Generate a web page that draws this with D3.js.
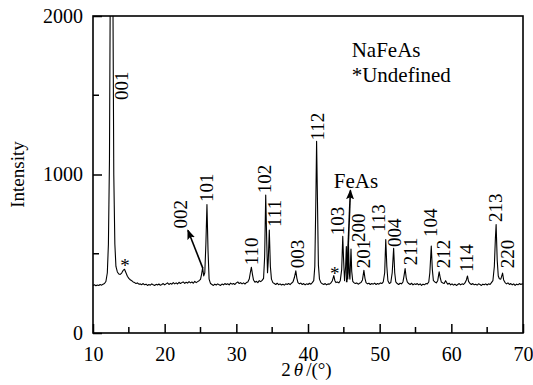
<!DOCTYPE html>
<html>
<head>
<meta charset="utf-8">
<script src="https://cdn.jsdelivr.net/npm/d3@7"></script>
<style>
  html, body { margin: 0; padding: 0; background: #fff; }
  svg { display: block; }
</style>
</head>
<body>
<svg id="chart" width="533" height="385"></svg>
<script>
'use strict';

const serif = '"Liberation Serif"';

// XRD scan, [2theta (deg), intensity]
const scan = [
  [10.0, 300], [10.2, 304], [10.4, 298], [10.6, 303], [10.8, 300], [11.0, 306],
  [11.2, 302], [11.4, 308], [11.6, 312], [11.8, 325], [12.0, 380], [12.15, 560],
  [12.3, 1100], [12.45, 2600], [12.6, 5200], [12.75, 2400], [12.9, 1000], [13.05, 560],
  [13.2, 420], [13.4, 385], [13.6, 372], [13.8, 370], [14.0, 378], [14.2, 395],
  [14.4, 402], [14.6, 380], [14.8, 358], [15.0, 345], [15.2, 336], [15.4, 330],
  [15.6, 322], [15.8, 318], [16.0, 312], [16.2, 316], [16.4, 308], [16.6, 310],
  [16.8, 305], [17.0, 312], [17.2, 304], [17.4, 308], [17.6, 300], [17.8, 306],
  [18.0, 302], [18.2, 310], [18.4, 304], [18.6, 300], [18.8, 307], [19.0, 303],
  [19.2, 309], [19.4, 301], [19.6, 306], [19.8, 312], [20.0, 304], [20.2, 310],
  [20.4, 316], [20.6, 306], [20.8, 313], [21.0, 308], [21.2, 318], [21.4, 310],
  [21.6, 316], [21.8, 309], [22.0, 320], [22.2, 312], [22.4, 318], [22.6, 322],
  [22.8, 313], [23.0, 320], [23.2, 315], [23.4, 324], [23.6, 316], [23.8, 322],
  [24.0, 314], [24.2, 326], [24.4, 318], [24.6, 324], [24.8, 330], [25.0, 338],
  [25.15, 370], [25.3, 412], [25.45, 360], [25.6, 380], [25.75, 560], [25.9, 810],
  [26.05, 520], [26.2, 340], [26.4, 312], [26.6, 306], [26.8, 300], [27.0, 308],
  [27.2, 303], [27.4, 310], [27.6, 305], [27.8, 300], [28.0, 309], [28.2, 304],
  [28.4, 312], [28.6, 306], [28.8, 311], [29.0, 304], [29.2, 315], [29.4, 308],
  [29.6, 312], [29.8, 306], [30.0, 316], [30.2, 322], [30.4, 312], [30.6, 318],
  [30.8, 310], [31.0, 316], [31.2, 309], [31.4, 318], [31.6, 322], [31.8, 340],
  [31.95, 380], [32.1, 415], [32.25, 370], [32.4, 334], [32.6, 320], [32.8, 326],
  [33.0, 318], [33.2, 330], [33.4, 324], [33.6, 332], [33.8, 345], [33.95, 480],
  [34.1, 870], [34.25, 560], [34.35, 380], [34.45, 450], [34.6, 650], [34.75, 420],
  [34.9, 340], [35.1, 318], [35.3, 312], [35.5, 306], [35.7, 314], [35.9, 305],
  [36.1, 310], [36.3, 303], [36.5, 308], [36.7, 302], [36.9, 310], [37.1, 306],
  [37.3, 312], [37.5, 305], [37.7, 314], [37.9, 322], [38.1, 350], [38.3, 392],
  [38.45, 345], [38.6, 318], [38.8, 310], [39.0, 315], [39.2, 306], [39.4, 312],
  [39.6, 304], [39.8, 310], [40.0, 306], [40.2, 314], [40.4, 308], [40.6, 318],
  [40.8, 330], [40.95, 420], [41.1, 850], [41.2, 1210], [41.3, 900], [41.45, 430],
  [41.6, 340], [41.8, 318], [42.0, 310], [42.2, 306], [42.4, 312], [42.6, 304],
  [42.8, 310], [43.0, 308], [43.2, 316], [43.4, 330], [43.6, 362], [43.75, 330],
  [43.9, 318], [44.1, 322], [44.3, 316], [44.5, 330], [44.7, 400], [44.85, 610],
  [44.95, 480], [45.1, 330], [45.25, 420], [45.35, 545], [45.45, 380], [45.55, 340],
  [45.65, 560], [45.75, 380], [45.85, 340], [46.0, 530], [46.1, 390], [46.25, 325],
  [46.4, 318], [46.6, 312], [46.8, 316], [47.0, 308], [47.2, 314], [47.4, 318],
  [47.6, 335], [47.8, 395], [47.95, 345], [48.1, 318], [48.3, 310], [48.5, 314],
  [48.7, 306], [48.9, 312], [49.1, 308], [49.3, 315], [49.5, 306], [49.7, 312],
  [49.9, 308], [50.1, 316], [50.3, 312], [50.5, 322], [50.7, 380], [50.85, 590],
  [51.0, 420], [51.15, 330], [51.35, 312], [51.55, 318], [51.75, 380], [51.95, 535],
  [52.1, 380], [52.25, 322], [52.45, 312], [52.65, 306], [52.85, 314], [53.05, 310],
  [53.25, 322], [53.4, 360], [53.55, 406], [53.7, 350], [53.85, 322], [54.05, 312],
  [54.25, 306], [54.45, 314], [54.65, 304], [54.85, 310], [55.05, 306], [55.25, 312],
  [55.45, 304], [55.65, 310], [55.85, 300], [56.05, 308], [56.25, 304], [56.45, 312],
  [56.65, 310], [56.85, 322], [57.0, 380], [57.2, 548], [57.35, 400], [57.5, 330],
  [57.7, 322], [57.9, 316], [58.1, 330], [58.3, 386], [58.45, 350], [58.6, 322],
  [58.8, 316], [59.0, 312], [59.2, 330], [59.35, 318], [59.5, 308], [59.7, 314],
  [59.9, 304], [60.1, 310], [60.3, 302], [60.5, 308], [60.7, 300], [60.9, 306],
  [61.1, 312], [61.3, 304], [61.5, 310], [61.7, 306], [61.9, 316], [62.1, 335],
  [62.25, 360], [62.4, 326], [62.6, 312], [62.8, 306], [63.0, 312], [63.2, 304],
  [63.4, 308], [63.6, 302], [63.8, 310], [64.0, 306], [64.2, 300], [64.4, 308],
  [64.6, 304], [64.8, 310], [65.0, 303], [65.2, 310], [65.4, 306], [65.6, 318],
  [65.8, 330], [66.0, 420], [66.15, 600], [66.25, 685], [66.4, 460], [66.55, 360],
  [66.7, 342], [66.9, 340], [67.05, 362], [67.15, 378], [67.3, 335], [67.5, 318],
  [67.7, 310], [67.9, 316], [68.1, 306], [68.3, 312], [68.5, 304], [68.7, 310],
  [68.9, 300], [69.1, 308], [69.3, 304], [69.5, 312], [69.7, 306], [69.9, 310],
  [70.0, 308],
];

// reflection labels: [hkl, 2theta, intensity where the text starts]
const peakLabels = [
  ['001', 14.0, 1470], ['002', 22.2, 660], ['101', 25.82, 826],
  ['110', 32.12, 427], ['102', 33.97, 881], ['111', 35.37, 669],
  ['003', 38.57, 408], ['112', 41.32, 1215], ['103', 44.15, 616],
  ['200', 47.07, 574], ['201', 47.7, 408], ['113', 49.86, 637],
  ['004', 52.09, 542], ['211', 54.32, 427], ['104', 57.04, 605],
  ['212', 58.92, 408], ['114', 62.06, 385], ['213', 66.1, 700],
  ['220', 67.77, 408],
];

// unidentified peaks marked with *
const starMarks = [[14.46, 446], [43.73, 396]];

// arrows: [from 2theta, from I, to 2theta, to I]
const arrows = [
  [25.33, 408, 23.24, 648],
  [45.4, 320, 45.92, 900],
];

const xTicks = [10, 20, 30, 40, 50, 60, 70];
const xMinor = [15, 25, 35, 45, 55, 65];
const yTicks = [0, 1000, 2000];
const yMinor = [500, 1500];

const legendLines = ['NaFeAs', '*Undefined'];

// x title pieces: [text, italic]
const xTitleParts = [['2', false], ['θ', true], ['/(°)', false]];

const margin = { top: 16, right: 10, bottom: 52, left: 93 };
const width = 533 - margin.left - margin.right;
const height = 385 - margin.top - margin.bottom;

const svg = d3.select('#chart');

const x = d3.scaleLinear().domain([10, 70]).range([0, width]);
const y = d3.scaleLinear().domain([0, 2000]).range([height, 0]);

const defs = svg.append('defs');

defs
  .append('clipPath')
  .attr('id', 'plot-clip')
  .append('rect')
  .attr('width', width)
  .attr('height', height);

defs
  .append('marker')
  .attr('id', 'head')
  .attr('viewBox', '0 0 10 8')
  .attr('refX', 9)
  .attr('refY', 4)
  .attr('markerWidth', 10)
  .attr('markerHeight', 8)
  .attr('markerUnits', 'userSpaceOnUse')
  .attr('orient', 'auto')
  .append('path')
  .attr('d', 'M0,0 L10,4 L0,8 L2,4 Z')
  .attr('fill', '#000');

const g = svg
  .append('g')
  .attr('transform', `translate(${margin.left}, ${margin.top})`);

// pattern
const line = d3
  .line()
  .x(d => x(d[0]))
  .y(d => y(d[1]));

g.append('path')
  .datum(scan)
  .attr('clip-path', 'url(#plot-clip)')
  .attr('fill', 'none')
  .attr('stroke', '#000')
  .attr('stroke-width', 1.1)
  .attr('stroke-linejoin', 'round')
  .attr('d', line);

// axes, ticks inward
const xAxis = g
  .append('g')
  .attr('transform', `translate(0, ${height})`)
  .call(
    d3
      .axisBottom(x)
      .tickValues(xTicks)
      .tickFormat(d3.format('d'))
      .tickSizeInner(-9)
      .tickSizeOuter(0)
      .tickPadding(14)
  );

xAxis
  .selectAll('.minor')
  .data(xMinor)
  .enter()
  .append('line')
  .attr('class', 'minor')
  .attr('x1', d => x(d))
  .attr('x2', d => x(d))
  .attr('y1', 0)
  .attr('y2', -6);

const yAxis = g
  .append('g')
  .call(
    d3
      .axisLeft(y)
      .tickValues(yTicks)
      .tickFormat(d3.format('d'))
      .tickSizeInner(-9)
      .tickSizeOuter(0)
      .tickPadding(10)
  );

yAxis
  .selectAll('.minor')
  .data(yMinor)
  .enter()
  .append('line')
  .attr('class', 'minor')
  .attr('y1', d => y(d))
  .attr('y2', d => y(d))
  .attr('x1', 0)
  .attr('x2', 6);

xAxis.attr('font-family', null).attr('font-size', null);
yAxis.attr('font-family', null).attr('font-size', null);

svg.selectAll('.tick line, .minor').attr('stroke', '#000').attr('stroke-width', 1.5);
svg.selectAll('.domain').remove();
svg
  .selectAll('.tick text')
  .style('font-family', serif)
  .style('font-size', '20px')
  .attr('fill', '#000');

// frame
g.append('rect')
  .attr('width', width)
  .attr('height', height)
  .attr('fill', 'none')
  .attr('stroke', '#000')
  .attr('stroke-width', 1.6);

// hkl labels
g.selectAll('.hkl')
  .data(peakLabels)
  .enter()
  .append('text')
  .attr('class', 'hkl')
  .attr('transform', d => `translate(${x(d[1])}, ${y(d[2])}) rotate(-90)`)
  .attr('dy', '0.35em')
  .style('font-family', serif)
  .style('font-size', '19px')
  .text(d => d[0]);

g.selectAll('.star')
  .data(starMarks)
  .enter()
  .append('text')
  .attr('class', 'star')
  .attr('x', d => x(d[0]))
  .attr('y', d => y(d[1]) + 10)
  .attr('text-anchor', 'middle')
  .style('font-family', serif)
  .style('font-size', '19px')
  .text('*');

g.selectAll('.arrow')
  .data(arrows)
  .enter()
  .append('line')
  .attr('class', 'arrow')
  .attr('x1', d => x(d[0]))
  .attr('y1', d => y(d[1]))
  .attr('x2', d => x(d[2]))
  .attr('y2', d => y(d[3]))
  .attr('stroke', '#000')
  .attr('stroke-width', 1.6)
  .attr('marker-end', 'url(#head)');

g.append('text')
  .attr('x', x(43.6))
  .attr('y', y(915))
  .style('font-family', serif)
  .style('font-size', '21px')
  .text('FeAs');

g.selectAll('.legend')
  .data(legendLines)
  .enter()
  .append('text')
  .attr('class', 'legend')
  .attr('x', x(46.1))
  .attr('y', (d, i) => 41 + i * 25)
  .style('font-family', serif)
  .style('font-size', '21px')
  .text(d => d);

// axis titles
svg
  .append('text')
  .attr('transform', `translate(23.5, ${margin.top + height / 2}) rotate(-90)`)
  .attr('text-anchor', 'middle')
  .style('font-family', serif)
  .style('font-size', '19px')
  .text('Intensity');

// x title laid out piece by piece so the italic theta sits on its own
const xTitle = svg.append('g');
let cursor = 0;
xTitleParts.forEach(part => {
  const t = xTitle
    .append('text')
    .attr('x', cursor)
    .attr('y', 376)
    .style('font-family', serif)
    .style('font-size', '19px')
    .style('font-style', part[1] ? 'italic' : 'normal')
    .text(part[0]);
  cursor += t.node().getComputedTextLength() + 3;
});
xTitle.attr('transform', `translate(${margin.left + width / 2 - cursor / 2}, 0)`);
</script>
</body>
</html>
